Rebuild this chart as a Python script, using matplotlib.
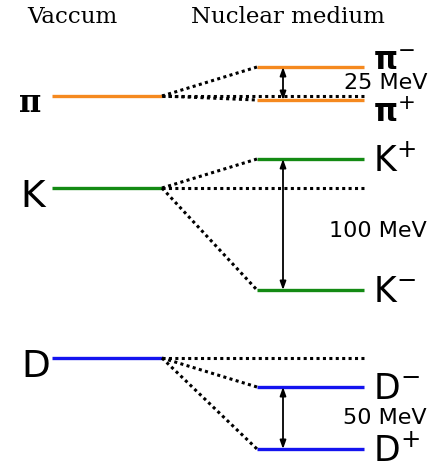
import matplotlib
matplotlib.use('Agg')
import matplotlib.pyplot as plt

# level positions (arbitrary energy units, top = high)
mesons = ['π', 'K', 'D']
vacuum = [96, 188, 358]
upper = [67, 159, 387]
lower = [100, 290, 449]
upper_lbl = [r'$\mathbf{\pi}^{-}$', r'K$^{+}$', r'D$^{-}$']
lower_lbl = [r'$\mathbf{\pi}^{+}$', r'K$^{-}$', r'D$^{+}$']
shift = ['25 MeV', '100 MeV', '50 MeV']
shift_y = [83, 231, 418]
colors = ['#f5891f', '#138a13', '#1414ef']

plt.rcParams['mathtext.fontset'] = 'dejavusans'

fig = plt.figure(figsize=(4.44, 4.73), dpi=100)
ax = fig.add_axes([0, 0, 1, 1])
ax.set_xlim(0, 444)
ax.set_ylim(473, 0)
ax.axis('off')

x_vac = (52, 162)
x_med = (257, 364)
x_arr = 283

for i, m in enumerate(mesons):
    c = colors[i]
    ax.plot(x_vac, [vacuum[i]] * 2, color=c, lw=2.4, solid_capstyle='butt')
    ax.plot(x_med, [upper[i]] * 2, color=c, lw=2.4, solid_capstyle='butt')
    ax.plot(x_med, [lower[i]] * 2, color=c, lw=2.4, solid_capstyle='butt')
    # dotted guide lines
    ls = (0, (1, 1.1))
    ax.plot([x_vac[1], x_med[1]], [vacuum[i]] * 2, color='k', lw=2.2, ls=ls)
    ax.plot([x_vac[1], x_med[0]], [vacuum[i], upper[i]], color='k', lw=2.2, ls=ls)
    ax.plot([x_vac[1], x_med[0]], [vacuum[i], lower[i]], color='k', lw=2.2, ls=ls)
    ax.annotate('', xy=(x_arr, upper[i]), xytext=(x_arr, lower[i]),
                arrowprops=dict(arrowstyle='<|-|>,head_length=0.5,head_width=0.18',
                                color='k', lw=1.3, shrinkA=0, shrinkB=0))
    ax.text(427, shift_y[i], shift[i], ha='right', va='center', fontsize=16,
            family='DejaVu Sans')

# left labels
ax.text(30, 103, 'π', ha='center', va='center', fontsize=22,
        family='DejaVu Serif', weight='bold')
ax.text(33, 197, 'K', ha='center', va='center', fontsize=27, family='DejaVu Sans')
ax.text(36, 367, 'D', ha='center', va='center', fontsize=27, family='DejaVu Sans')

# right labels
for i in range(3):
    fs = 22 if i == 0 else 25
    ax.text(373, upper[i] + (-6 if i == 0 else 2), upper_lbl[i], ha='left',
            va='center', fontsize=fs)
    ax.text(373, lower[i] + (13 if i == 0 else 2), lower_lbl[i], ha='left',
            va='center', fontsize=fs)

ax.text(72, 17, 'Vaccum', ha='center', va='center', fontsize=16.5,
        family='DejaVu Serif')
ax.text(288, 17, 'Nuclear medium', ha='center', va='center', fontsize=16.5,
        family='DejaVu Serif')

fig.savefig('out.png', dpi=100)
